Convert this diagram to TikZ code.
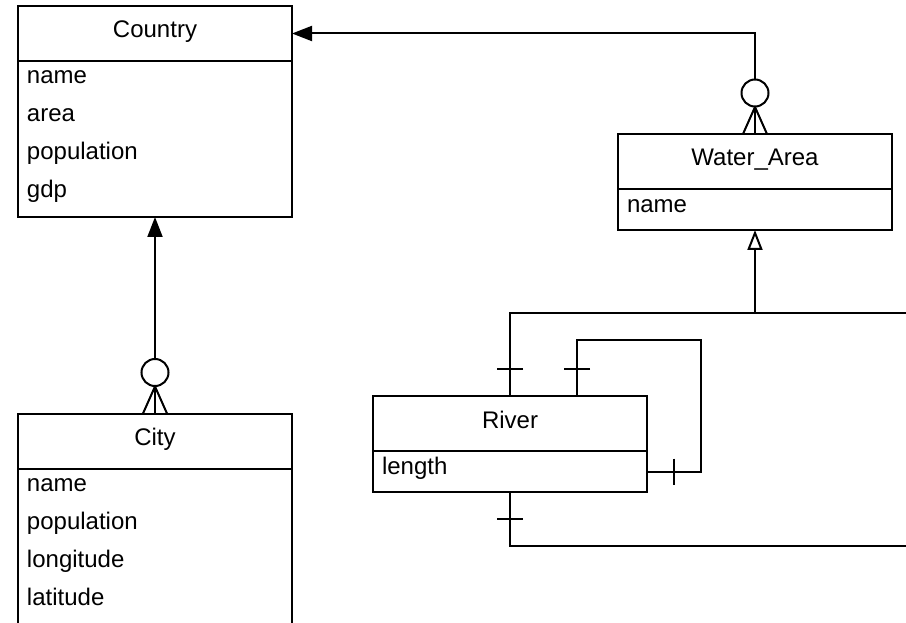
\documentclass[tikz,border=0pt]{standalone}
\usepackage{fontspec}
\setmainfont{Liberation Sans}
\usetikzlibrary{arrows.meta,positioning,calc,decorations.markings}

\tikzset{
  classhead/.style={draw, line width=2pt, outer sep=0pt, inner sep=0pt, minimum width=274pt, minimum height=55pt, text height=15pt, text depth=6pt},
  classattr/.style={draw, line width=2pt, outer sep=0pt, inner sep=0pt, minimum width=274pt},
  attr/.style={anchor=base west, inner sep=0pt},
  % ER end markers
  onestart/.style={postaction={decorate, decoration={markings, mark=at position 27pt with {\draw[-] (0,-13pt) -- (0,13pt);}}}},
  oneend/.style={postaction={decorate, decoration={markings, mark=at position -27pt with {\draw[-] (0,-13pt) -- (0,13pt);}}}},
  manystart/.style={postaction={decorate, decoration={markings, mark=at position 0pt with {\draw[-] (0,-12pt) -- (27pt,0) -- (0,12pt); \draw[-,fill=white] (41pt,0) circle (13.5pt);}}}}
}

\begin{document}
\begin{tikzpicture}[x=1pt, y=-1pt, >={Triangle[length=20pt,width=15pt]}, line width=2pt, font=\fontsize{24pt}{28pt}\selectfont]
\useasboundingbox (0,0) rectangle (906,623);
\clip (0,0) rectangle (906,623);

\node[classhead] (country) at (155,33.5) {Country};
\node[classattr, below=0pt of country, minimum height=156pt] (countryattr) {};
\node[attr] (countryname) at (26,83.5) {name};
\node[attr] (countryarea) at (26,121.5) {area};
\node[attr] (countrypop) at (26,159.5) {population};
\node[attr] (countrygdp) at (26,197.5) {gdp};

\node[classhead] (city) at (155,441) {City};
\node[classattr, below=0pt of city, minimum height=220pt] (cityattr) {};
\node[attr] (cityname) at (26,491.5) {name};
\node[attr] (citypop) at (26,529.5) {population};
\node[attr] (citylon) at (26,567.5) {longitude};
\node[attr] (citylat) at (26,605.5) {latitude};

\node[classhead] (water) at (755,161.5) {Water\_Area};
\node[classattr, below=0pt of water, minimum height=41pt] (waterattr) {};
\node[attr] (watername) at (626,213) {name};

\node[classhead] (river) at (510,423.5) {River};
\node[classattr, below=0pt of river, minimum height=41pt] (riverattr) {};
\node[attr] (riverlength) at (381,474.5) {length};

\draw[manystart,->] (water.north) |- (country.east);
\draw[manystart,->] (city.north) -- (countryattr.south);

\coordinate (genjoin) at (755,313);
\coordinate (genout) at (920,313);
\coordinate (lowout) at (920,546);
\draw[onestart,-{Triangle[open,length=20pt,width=15pt]}] (river.north) |- (genjoin) -- (waterattr.south);
\draw (genjoin) -- (genout);
\draw[onestart] (riverattr.south) |- (lowout);
\draw[onestart,oneend] ([xshift=67pt]river.north) -- ++(0,-56) -| ($(riverattr.east)+(54,0)$) -- (riverattr.east);
\end{tikzpicture}
\end{document}
